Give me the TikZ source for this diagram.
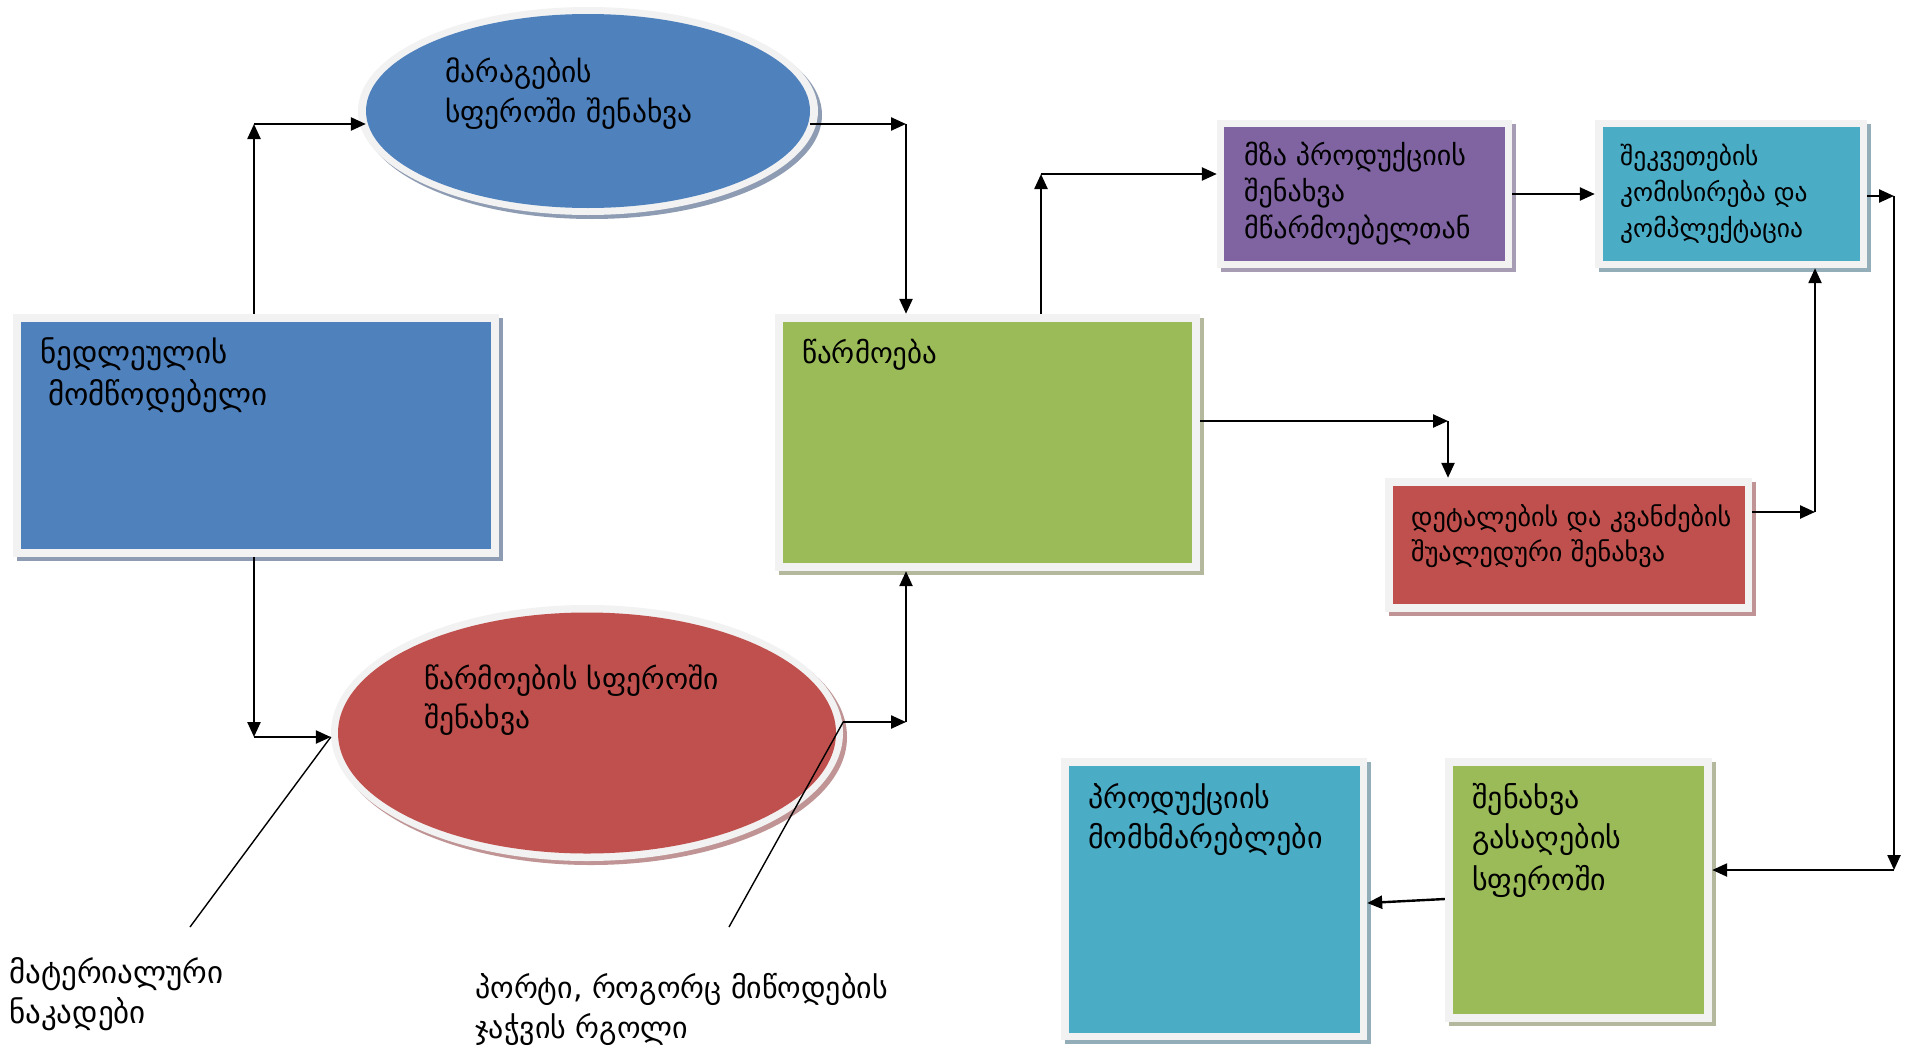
\documentclass[tikz,border=0pt]{standalone}
\usepackage{fontspec}
\setmainfont{DejaVu Sans}
\usetikzlibrary{shapes.geometric,shadows,arrows.meta}
\definecolor{cblue}{HTML}{4F81BD}
\definecolor{cred}{HTML}{C0504D}
\definecolor{cgreen}{HTML}{9BBB59}
\definecolor{cpurple}{HTML}{8064A2}
\definecolor{cteal}{HTML}{4BACC6}
\definecolor{cframe}{HTML}{F2F2F2}
\definecolor{sblue}{HTML}{8E9CB3}
\definecolor{sred}{HTML}{C09494}
\definecolor{sgreen}{HTML}{B4B99E}
\definecolor{spurple}{HTML}{A69CB4}
\definecolor{steal}{HTML}{93AEB8}
\newcommand\gsz[1]{\fontsize{#1}{40}\selectfont}
\tikzset{
  framebox/.style={rectangle, fill=cframe, draw=none, inner sep=0pt},
  fillbox/.style={rectangle, draw=none, inner sep=0pt},
  frameell/.style={ellipse, fill=cframe, draw=none, inner sep=0pt},
  fillell/.style={ellipse, draw=none, inner sep=0pt},
  shad/.style={drop shadow={shadow xshift=4pt, shadow yshift=-4pt, fill=#1, opacity=1}},
  lbl/.style={anchor=base west, inner sep=0pt, font=\gsz{#1}},
  lbl/.default=29,
  arr/.style={line width=2.4pt, -{Triangle[length=15pt,width=13pt]}},
  pointer/.style={line width=1.4pt}
}
\begin{document}
\begin{tikzpicture}[x=1pt,y=-1pt]
\useasboundingbox[fill=white] (0,0) rectangle (1910,1052);

% top ellipse
\node[frameell, shad=sblue, minimum width=460pt, minimum height=208pt] (top) at (588,111) {};
\node[fillell, fill=cblue, minimum width=444pt, minimum height=194pt] (topin) at (top.center) {};
% bottom ellipse
\node[frameell, shad=sred, minimum width=512pt, minimum height=256pt] (red) at (587,733) {};
\node[fillell, fill=cred, minimum width=498pt, minimum height=241pt] (redin) at (red.center) {};

% supplier
\node[framebox, shad=sblue, minimum width=486pt, minimum height=243pt] (sup) at (256,435.5) {};
\node[fillbox, fill=cblue, minimum width=470pt, minimum height=227pt] (supin) at (sup.center) {};
% production
\node[framebox, shad=sgreen, minimum width=425pt, minimum height=257pt] (prod) at (987.5,442.5) {};
\node[fillbox, fill=cgreen, minimum width=409pt, minimum height=241pt] (prodin) at (prod.center) {};
% purple
\node[framebox, shad=spurple, minimum width=295pt, minimum height=148pt] (purp) at (1364.5,194) {};
\node[fillbox, fill=cpurple, minimum width=281pt, minimum height=134pt] (purpin) at (purp.center) {};
% teal top
\node[framebox, shad=steal, minimum width=272pt, minimum height=148pt] (teal) at (1731,194) {};
\node[fillbox, fill=cteal, minimum width=257pt, minimum height=134pt] (tealin) at (teal.center) {};
% red box
\node[framebox, shad=sred, minimum width=367pt, minimum height=134pt] (redb) at (1568.5,545) {};
\node[fillbox, fill=cred, minimum width=352pt, minimum height=118pt] (redbin) at (redb.center) {};
% bottom green
\node[framebox, shad=sgreen, minimum width=267pt, minimum height=264pt] (gbox) at (1578.5,890) {};
\node[fillbox, fill=cgreen, minimum width=251pt, minimum height=248pt] (gboxin) at (gbox.center) {};
% bottom teal
\node[framebox, shad=steal, minimum width=306pt, minimum height=282pt] (cons) at (1214,899) {};
\node[fillbox, fill=cteal, minimum width=291pt, minimum height=267pt] (consin) at (cons.center) {};

% texts
\node[lbl=29.5] (t1) at (445,82) {მარაგების};
\node[lbl=29.5] (t2) at (445,122) {სფეროში შენახვა};
\node[lbl=31] (t3) at (40,363) {ნედლეულის};
\node[lbl=31] (t4) at (48,405) {მომწოდებელი};
\node[lbl=29] (t5) at (802,363) {წარმოება};
\node[lbl=29.5] (t6) at (424,689) {წარმოების სფეროში};
\node[lbl=29.5] (t7) at (424,728) {შენახვა};
\node[lbl=28] (t8) at (1244,165) {მზა პროდუქციის};
\node[lbl=28] (t9) at (1244,201) {შენახვა};
\node[lbl=28] (t10) at (1244,238) {მწარმოებელთან};
\node[lbl=25.5] (t11) at (1620,165) {შეკვეთების};
\node[lbl=25.5] (t12) at (1620,201) {კომისირება და};
\node[lbl=25.5] (t13) at (1620,237) {კომპლექტაცია};
\node[lbl=26.2] (t14) at (1411,526) {დეტალების და კვანძების};
\node[lbl=26.2] (t15) at (1411,561) {შუალედური შენახვა};
\node[lbl=30] (t16) at (1088,808) {პროდუქციის};
\node[lbl=30] (t17) at (1088,848) {მომხმარებლები};
\node[lbl=30] (t18) at (1472,808) {შენახვა};
\node[lbl=30] (t19) at (1472,848) {გასაღების};
\node[lbl=30] (t20) at (1472,890) {სფეროში};
\node[lbl=31] (t21) at (9,983) {მატერიალური};
\node[lbl=31] (t22) at (9,1023) {ნაკადები};
\node[lbl=30] (t23) at (475,998) {პორტი, როგორც მიწოდების};
\node[lbl=30] (t24) at (475,1038) {ჯაჭვის რგოლი};

% connectors
\coordinate (ca) at (254,124);
\draw[arr] (sup.north -| ca) -- (ca);
\draw[arr] (ca) -- (ca -| top.187);
\coordinate (cb) at (906,124);
\draw[arr] (cb -| top.-7) -- (cb);
\draw[arr] (cb) -- (cb |- prod.north);
\coordinate (cc) at (254,737);
\draw[arr] (sup.south -| cc) -- (cc);
\draw[arr] (cc) -- (cc -| red.west);
\coordinate (cd) at (906,722);
\draw[arr] (cd -| red.east) -- (cd);
\draw[arr] (cd) -- (cd |- prod.south);
\coordinate (ce) at (1041,174);
\draw[arr] (prod.north -| ce) -- (ce);
\draw[arr] (ce) -- (ce -| purp.west);
\coordinate (cf) at (1448,421);
\draw[arr] (prod.east |- cf) -- (cf);
\draw[arr] (cf) -- (cf |- redb.north);
\draw[arr] (purp.east) -- (teal.west);
\coordinate (ch) at (1815,512);
\draw[arr] (redb.east |- ch) -- (ch);
\draw[arr] (ch) -- (ch |- teal.south);
\coordinate (ci1) at (1894,196);
\coordinate (ci2) at (1894,870);
\draw[arr] (teal.east |- ci1) -- (ci1);
\draw[arr] (ci1) -- (ci2);
\draw[arr] (ci2) -- (ci2 -| gbox.east);
\draw[arr] ([yshift=-9pt]gbox.west) -- ([yshift=-4pt]cons.east);

% pointer lines
\coordinate (p1) at (190,927);
\coordinate (p2) at (729,927);
\draw[pointer] (p1) -- (cc -| red.west);
\draw[pointer] (p2) -- (cd -| red.east);
\end{tikzpicture}
\end{document}
